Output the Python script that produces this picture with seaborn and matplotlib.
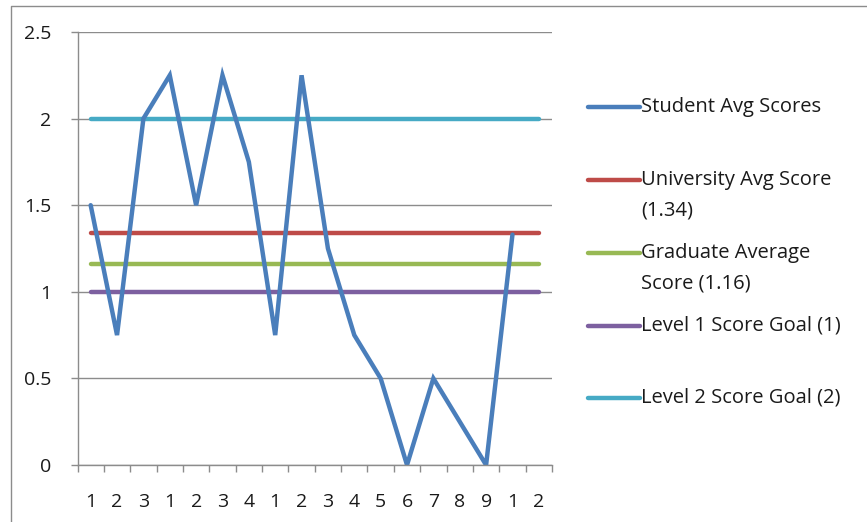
import numpy as np
import pandas as pd
import seaborn as sns
import matplotlib.pyplot as plt
from matplotlib.lines import Line2D

# values
x_labels = ['1', '2', '3', '1', '2', '3', '4', '1', '2', '3', '4', '5', '6', '7', '8', '9', '1', '2']
student = [1.5, 0.75, 2.0, 2.25, 1.5, 2.25, 1.75, 0.75, 2.25, 1.25, 0.75, 0.5, 0.0, 0.5, 0.25, 0.0, 1.33, np.nan]
university_avg = 1.34
graduate_avg = 1.16
level1_goal = 1.0
level2_goal = 2.0

series_names = ['Student Avg Scores', 'University Avg Score\n(1.34)', 'Graduate Average\nScore (1.16)',
                'Level 1 Score Goal (1)', 'Level 2 Score Goal (2)']
colors = ['#4A7EBB', '#BE4B48', '#98B954', '#7D60A0', '#46AAC5']

n = len(x_labels)
pos = np.arange(n)
df = pd.DataFrame({
    'pos': np.tile(pos, 5),
    'value': np.concatenate([student, [university_avg] * n, [graduate_avg] * n,
                             [level1_goal] * n, [level2_goal] * n]),
    'series': np.repeat(series_names, n),
})

sns.set_style('white')
plt.rcParams['font.family'] = ['Open Sans', 'DejaVu Sans']

fig = plt.figure(figsize=(8.67, 5.22), dpi=100)
ax = fig.add_axes([77.5 / 867, 57 / 522, (552 - 77.5) / 867, (465 - 32) / 522])

# draw the reference lines first, student line on top
order = series_names[1:] + series_names[:1]
for name in order:
    sub = df[df['series'] == name]
    sns.lineplot(data=sub, x='pos', y='value', ax=ax, color=colors[series_names.index(name)],
                 lw=3.2, solid_capstyle='round', solid_joinstyle='miter', legend=False)

ax.set_xlim(-0.5, n - 0.5)
ax.set_ylim(0, 2.5)
ax.set_yticks(np.arange(0, 2.51, 0.5))
ax.set_yticklabels(['0', '0.5', '1', '1.5', '2', '2.5'])
ax.set_xticks(pos)
ax.set_xticklabels(x_labels)
ax.set_xticks(np.arange(-0.5, n, 1), minor=True)
ax.set_xlabel('')
ax.set_ylabel('')

ax.grid(axis='y', color='#8C8C8C', lw=1)
ax.set_axisbelow(True)
for side in ['top', 'right']:
    ax.spines[side].set_visible(False)
for side in ['left', 'bottom']:
    ax.spines[side].set_color('#8C8C8C')
    ax.spines[side].set_linewidth(1)
ax.tick_params(axis='y', left=True, length=5, width=1, color='#8C8C8C', pad=14, labelsize=14,
               labelcolor='#1a1a1a')
ax.tick_params(axis='x', which='major', bottom=False, length=0, pad=20, labelsize=14,
               labelcolor='#1a1a1a')
ax.tick_params(axis='x', which='minor', bottom=True, length=5, width=1, color='#8C8C8C')

# legend to the right, handle aligned with the first line of each label
legend_y = [107, 180, 253, 326, 398]
line_gap = 30
for name, c, y in zip(series_names, colors, legend_y):
    fy = 1 - y / 522
    fig.add_artist(Line2D([588 / 867, 640 / 867], [fy, fy], transform=fig.transFigure,
                          color=c, lw=3.2, solid_capstyle='round'))
    for i, part in enumerate(name.split('\n')):
        fig.text(641 / 867, 1 - (y + i * line_gap) / 522, part, va='center', ha='left',
                 fontsize=14.5, color='#1a1a1a')

# thin frame on left and top as in the original screenshot
fig.add_artist(Line2D([11 / 867, 11 / 867, 1], [0, 1 - 6 / 522, 1 - 6 / 522],
                      transform=fig.transFigure, color='#8C8C8C', lw=1))

fig.savefig('out.png', dpi=100)
